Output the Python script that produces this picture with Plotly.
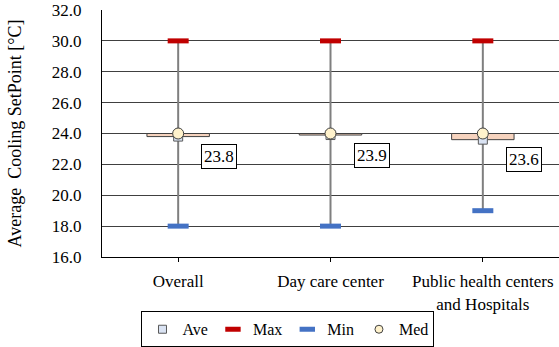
import plotly.graph_objects as go

# Cooling set-point statistics per facility type (°C)
categories = ["Overall", "Day care center", "Public health centers<br>and Hospitals"]
ave = [23.8, 23.9, 23.6]
med = [24.0, 24.0, 24.0]
t_max = [30.0, 30.0, 30.0]
t_min = [18.0, 18.0, 19.0]
y_ticks = [16.0, 18.0, 20.0, 22.0, 24.0, 26.0, 28.0, 30.0, 32.0]

FONT = "Times New Roman, Liberation Serif, serif"

AVE_STYLE = dict(symbol="square", color="#DAE3F3", line=dict(color="#595959", width=1))
MED_STYLE = dict(symbol="circle", color="#FFF2CC", line=dict(color="#404040", width=1))
MAX_COLOR = "#C00000"
MIN_COLOR = "#4472C4"

fig = go.Figure()

# High-low line from minimum to maximum
hl_x, hl_y = [], []
for c, lo, hi in zip(categories, t_min, t_max):
    hl_x += [c, c, None]
    hl_y += [lo, hi, None]
fig.add_trace(go.Scatter(x=hl_x, y=hl_y, mode="lines",
                         line=dict(color="#7F7F7F", width=2),
                         showlegend=False, hoverinfo="skip"))

# Bar spanning average to median
fig.add_trace(go.Bar(x=categories,
                     y=[m - a for m, a in zip(med, ave)],
                     base=ave, width=0.41,
                     marker=dict(color="#F6D3BE", line=dict(color="#404040", width=1)),
                     showlegend=False, hoverinfo="skip"))

fig.add_trace(go.Scatter(x=categories, y=ave, mode="markers", name="Ave",
                         marker=dict(size=9, **AVE_STYLE), showlegend=False))
fig.add_trace(go.Scatter(x=categories, y=t_max, mode="markers", name="Max",
                         marker=dict(symbol="line-ew", size=15,
                                     line=dict(color=MAX_COLOR, width=5)),
                         showlegend=False))
fig.add_trace(go.Scatter(x=categories, y=t_min, mode="markers", name="Min",
                         marker=dict(symbol="line-ew", size=15,
                                     line=dict(color=MIN_COLOR, width=5)),
                         showlegend=False))
fig.add_trace(go.Scatter(x=categories, y=med, mode="markers", name="Med",
                         marker=dict(size=11, **MED_STYLE), showlegend=False))

# Legend entries with smaller key symbols
legend_keys = [
    ("Ave", dict(size=8, **AVE_STYLE)),
    ("Max", dict(symbol="line-ew", size=11, line=dict(color=MAX_COLOR, width=5))),
    ("Min", dict(symbol="line-ew", size=11, line=dict(color=MIN_COLOR, width=5))),
    ("Med", dict(size=8, **MED_STYLE)),
]
for name, mk in legend_keys:
    fig.add_trace(go.Scatter(x=[None], y=[None], mode="markers", name=name,
                             marker=mk, showlegend=True))

# Boxed value labels for the averages
for c, a in zip(categories, ave):
    fig.add_annotation(x=c, y=a, xref="x", yref="y", text=f"{a:.1f}",
                       showarrow=False, xshift=41, yshift=-20,
                       font=dict(family=FONT, size=17, color="black"),
                       bgcolor="white", bordercolor="black", borderwidth=1,
                       borderpad=2)

fig.update_layout(
    width=559, height=347,
    margin=dict(l=102, r=0, t=10, b=90, autoexpand=False),
    paper_bgcolor="white", plot_bgcolor="white",
    font=dict(family=FONT, size=17, color="black"),
    barmode="overlay",
    legend=dict(orientation="h", x=0.407, y=-0.22, xanchor="center", yanchor="top",
                bordercolor="black", borderwidth=1,
                font=dict(family=FONT, size=16, color="black"),
                itemwidth=30, tracegroupgap=0),
)
fig.update_xaxes(type="category", showline=True, linecolor="black", linewidth=1,
                 ticks="outside", ticklen=4, tickcolor="black",
                 showgrid=False, ticklabelstandoff=5, automargin=False,
                 tickfont=dict(family=FONT, size=17, color="black"))
fig.update_yaxes(range=[16, 32], tickvals=y_ticks, tickformat=".1f",
                 showline=True, linecolor="black", linewidth=1,
                 showgrid=True, gridcolor="#404040", gridwidth=1,
                 zeroline=False, ticks="", ticklabelstandoff=16, automargin=False,
                 tickfont=dict(family=FONT, size=17, color="black"),
                 title=dict(text="Average\u00a0 Cooling SetPoint [°C]",
                            font=dict(family=FONT, size=18, color="black"),
                            standoff=25))

fig.write_html("out.html")
